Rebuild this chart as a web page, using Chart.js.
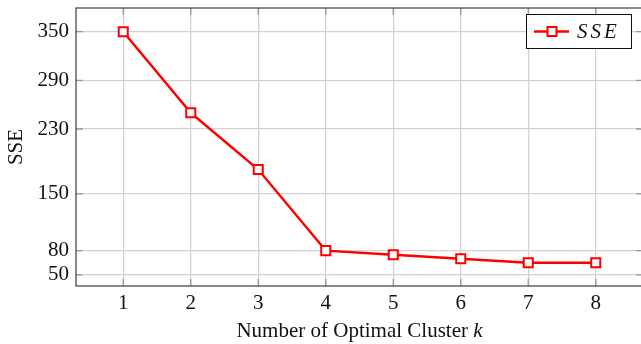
<!DOCTYPE html>
<html><head><meta charset="utf-8">
<script src="https://cdn.jsdelivr.net/npm/chart.js@4/dist/chart.umd.min.js"></script>
<style>html,body{margin:0;padding:0;overflow:hidden;background:#fff}#wrap{width:644px;height:344px;position:relative}</style>
</head><body><div id="wrap"><canvas id="c" width="644" height="344"></canvas></div>
<script>
const clusters = [1, 2, 3, 4, 5, 6, 7, 8];
const sseValues = [350, 250, 180, 80, 75, 70, 65, 65];
const xTicks = [1, 2, 3, 4, 5, 6, 7, 8];
const yTicks = [50, 80, 150, 230, 290, 350];
const seriesLabel = 'SSE';
const xTitleMain = 'Number of Optimal Cluster ';
const xTitleVar = 'k';
const yTitle = 'SSE';

const FONT = '"Liberation Serif", serif';
const RED = '#ff0000';

function zeroPad(s) { s.paddingTop = 0; s.paddingBottom = 0; s.paddingLeft = 0; s.paddingRight = 0; }

const framePlugin = {
  id: 'frame',
  beforeDatasetsDraw(chart) {
    const {ctx, chartArea: a, scales} = chart;
    ctx.save();
    ctx.strokeStyle = '#9a9a9a';
    ctx.lineWidth = 1.3;
    const L = 7;
    ctx.beginPath();
    scales.y.ticks.forEach(t => {
      const y = scales.y.getPixelForValue(t.value);
      ctx.moveTo(a.left, y); ctx.lineTo(a.left + L, y);
      ctx.moveTo(a.right, y); ctx.lineTo(a.right - L, y);
    });
    scales.x.ticks.forEach(t => {
      const x = scales.x.getPixelForValue(t.value);
      ctx.moveTo(x, a.bottom); ctx.lineTo(x, a.bottom - L);
      ctx.moveTo(x, a.top); ctx.lineTo(x, a.top + L);
    });
    ctx.stroke();
    ctx.strokeStyle = '#2a2a2a';
    ctx.lineWidth = 1.1;
    ctx.strokeRect(a.left, a.top, a.right - a.left, a.bottom - a.top);
    ctx.restore();
  },
  afterDraw(chart) {
    const {ctx, chartArea: a} = chart;
    ctx.save();
    ctx.fillStyle = '#111';
    ctx.textBaseline = 'alphabetic';
    const f1 = '21px ' + FONT, f2 = 'italic 21px ' + FONT;
    ctx.font = f1; const w1 = ctx.measureText(xTitleMain).width;
    ctx.font = f2; const w2 = ctx.measureText(xTitleVar).width;
    const cx = (a.left + a.right) / 2;
    const x0 = cx - (w1 + w2) / 2;
    ctx.font = f1; ctx.textAlign = 'left';
    ctx.fillText(xTitleMain, x0, 337);
    ctx.font = f2; ctx.fillText(xTitleVar, x0 + w1, 337);
    const bx = 526.5, by = 14.5, bw = 105, bh = 34;
    ctx.fillStyle = '#fff';
    ctx.fillRect(bx, by, bw, bh);
    ctx.strokeStyle = '#111'; ctx.lineWidth = 1;
    ctx.strokeRect(bx, by, bw, bh);
    const ly = by + bh / 2;
    ctx.strokeStyle = RED; ctx.lineWidth = 2.4;
    ctx.beginPath(); ctx.moveTo(534, ly); ctx.lineTo(569, ly); ctx.stroke();
    ctx.fillStyle = '#fff'; ctx.lineWidth = 2;
    ctx.fillRect(547.5, ly - 4.5, 9, 9);
    ctx.strokeRect(547.5, ly - 4.5, 9, 9);
    ctx.fillStyle = '#111';
    ctx.font = 'italic 21px ' + FONT;
    ctx.letterSpacing = '3px';
    ctx.textBaseline = 'middle';
    ctx.fillText(seriesLabel, 577, ly + 1);
    ctx.restore();
  }
};

new Chart(document.getElementById('c'), {
  type: 'line',
  data: {
    datasets: [{
      label: seriesLabel,
      data: clusters.map((k, i) => ({x: k, y: sseValues[i]})),
      borderColor: RED,
      borderWidth: 2.4,
      backgroundColor: '#fff',
      pointStyle: 'rect',
      pointRadius: 6.4,
      pointBorderWidth: 2,
      pointBackgroundColor: '#fff',
      pointBorderColor: RED,
      tension: 0
    }]
  },
  options: {
    responsive: false,
    animation: false,
    devicePixelRatio: 1,
    layout: {autoPadding: false, padding: {top: 8, right: 1, left: 0, bottom: 0}},
    plugins: {legend: {display: false}, tooltip: {enabled: false}},
    scales: {
      x: {
        type: 'linear', min: 0.3, max: 8.7,
        afterBuildTicks: s => { s.ticks = xTicks.map(v => ({value: v})); },
        afterFit: s => { s.height = 58; zeroPad(s); },
        grid: {color: '#d2d2d2', lineWidth: 1.3, drawTicks: false},
        border: {display: false},
        ticks: {color: '#111', font: {family: FONT, size: 21}, padding: 5, maxRotation: 0, callback: v => String(v)}
      },
      y: {
        type: 'linear', min: 36.4, max: 379.2,
        afterBuildTicks: s => { s.ticks = yTicks.map(v => ({value: v})); },
        afterFit: s => { s.width = 76; zeroPad(s); },
        grid: {color: '#d2d2d2', lineWidth: 1.3, drawTicks: false},
        border: {display: false},
        ticks: {color: '#111', font: {family: FONT, size: 21}, padding: 7, callback: v => String(v)},
        title: {display: true, text: yTitle, color: '#111', font: {family: FONT, size: 21}, padding: {top: 4, bottom: 0}}
      }
    }
  },
  plugins: [framePlugin]
});
</script>
</body></html>
